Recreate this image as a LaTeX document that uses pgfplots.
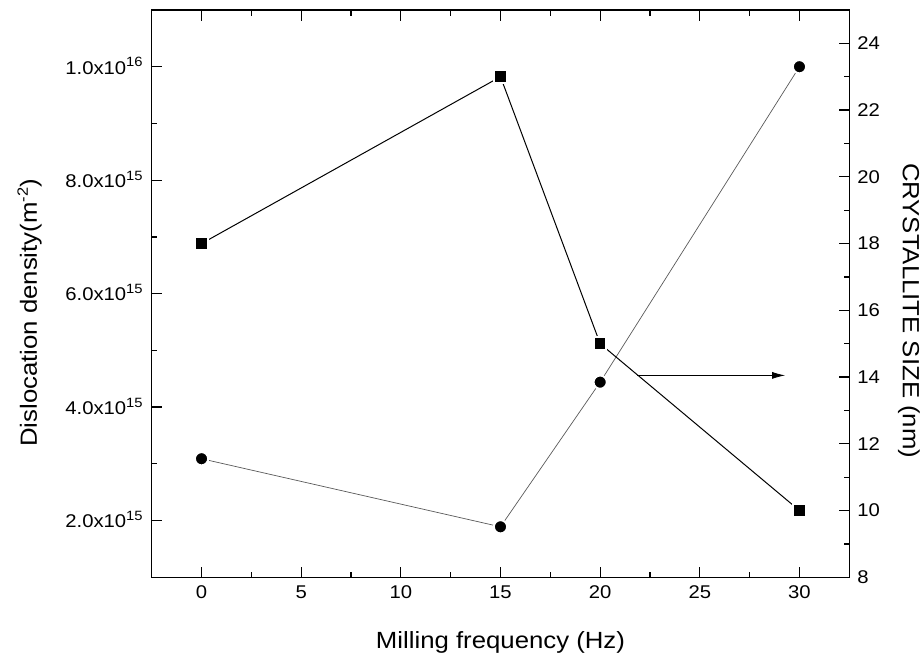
\documentclass[border=0pt]{standalone}
\usepackage{fontspec}
\setmainfont{Liberation Sans}[FakeStretch=1.1]
\usepackage{pgfplots}
\pgfplotsset{compat=1.18}
\usetikzlibrary{arrows.meta}
\newcommand{\sci}[2]{#1x10\raisebox{7.3bp}{\fontsize{13.5}{14}\selectfont #2}}
\begin{document}
\begin{tikzpicture}
\pgfplotsset{
  every axis/.append style={
    scale only axis, width=697.6bp, height=567.3bp,
    xmin=-2.5, xmax=32.5,
    axis line style={line width=1.3bp},
    every tick/.style={line width=1.3bp, black},
    major tick length=10.7bp, minor tick length=5.7bp,
    tick align=inside,
    ticklabel style={font=\fontsize{18.5}{22}\selectfont},
    label style={font=\fontsize{23.5}{28}\selectfont},
    scaled y ticks=false,
  }
}
\begin{axis}[
  xtick={0,5,10,15,20,25,30},
  xticklabels={0,5,10,15,20,25,30},
  minor x tick num=1,
  xtick pos=both,
  ytick pos=left,
  ymin=1e15, ymax=1.1e16,
  ytick={2e15,4e15,6e15,8e15,1e16},
  yticklabels={\sci{2.0}{15},\sci{4.0}{15},\sci{6.0}{15},\sci{8.0}{15},\sci{1.0}{16}},
  minor y tick num=1,
  xticklabel style={yshift=-4.7bp},
  yticklabel style={anchor=base east, yshift=-7.3bp, xshift=-5.5bp},
  xlabel={Milling frequency (Hz)},
  xlabel style={at={(axis description cs:0.5,-0.125)}, anchor=base},
  ylabel={Dislocation density(m\raisebox{9bp}{\fontsize{15}{15}\selectfont -2})},
  ylabel style={at={(axis description cs:-0.175,0.466)}, anchor=center},
]
\coordinate (bl) at (rel axis cs:0,0);
\coordinate (tr) at (rel axis cs:1,1);
\addplot[black!65, line width=0.7bp, mark=*, mark size=6.65bp,
  mark options={draw=white, fill=black, line width=2bp}]
  coordinates {(0,3.09e15) (15,1.89e15) (20,4.44e15) (30,1.0e16)};
\end{axis}
\begin{axis}[
  xtick=\empty,
  ytick pos=right,
  ymin=8, ymax=25,
  ytick={8,10,12,14,16,18,20,22,24},
  yticklabels={8,10,12,14,16,18,20,22,24},
  minor y tick num=1,
  yticklabel style={xshift=4.5bp},
  ylabel={CRYSTALLITE SIZE (nm)},
  ylabel style={at={(axis description cs:1.0856,0.47)}, anchor=center, rotate=180},
]
\addplot[black, line width=1bp, mark=square*, mark size=6.3bp,
  mark options={draw=white, fill=black, line width=2bp}]
  coordinates {(0,18) (15,23) (20,15) (30,10)};
\draw[-{Latex[length=13bp,width=7bp]}, line width=0.8bp, black]
  (axis cs:21.87,14.05) -- (axis cs:29.28,14.05);
\end{axis}
\pgfresetboundingbox
\path ([shift={(-151.7bp,-79.7bp)}]bl) rectangle ([shift={(73.7bp,10bp)}]tr);
\end{tikzpicture}
\end{document}
